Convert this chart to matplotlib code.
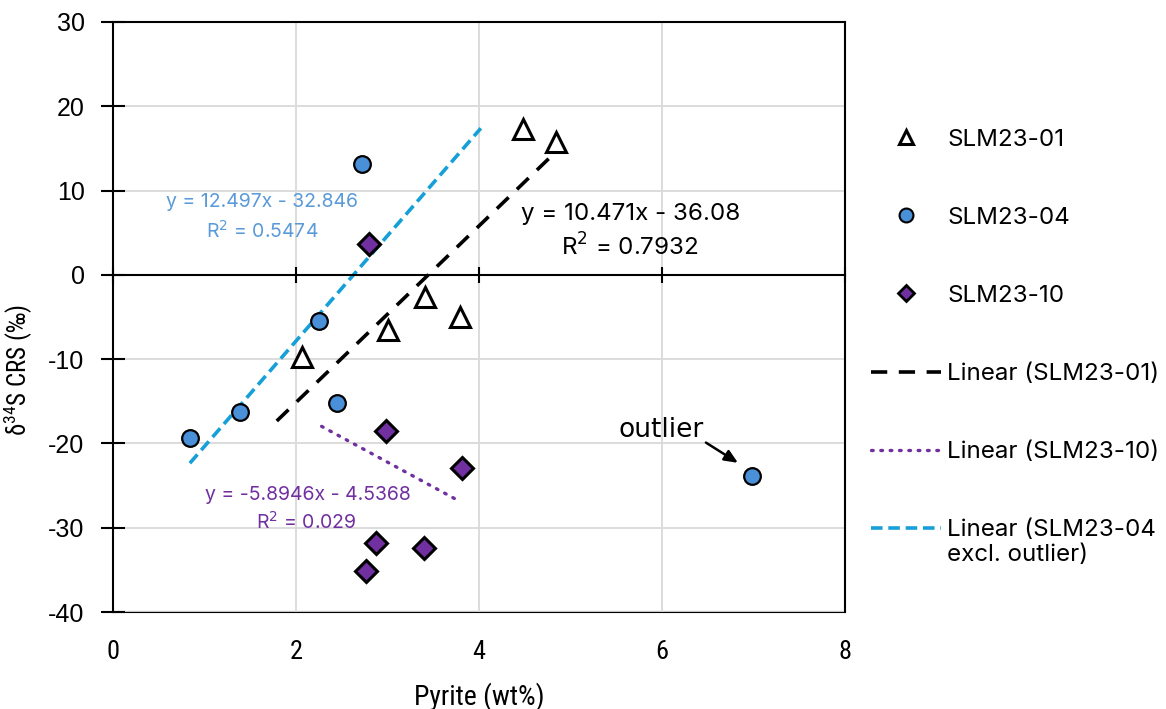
import matplotlib
matplotlib.use("Agg")
import matplotlib.pyplot as plt
from matplotlib import font_manager
from matplotlib.lines import Line2D

plt.rcParams["axes.unicode_minus"] = False

# Pyrite content (wt%) and d34S of CRS (permil) per core
slm01_x = [4.48, 4.84, 3.41, 3.79, 3.01, 2.07]
slm01_y = [17.3, 15.8, -2.6, -5.0, -6.6, -9.8]

slm04_x = [0.84, 1.39, 2.25, 2.45, 2.72, 6.98]
slm04_y = [-19.4, -16.3, -5.5, -15.2, 13.1, -23.9]

slm10_x = [2.80, 2.98, 3.81, 2.87, 3.40, 2.77]
slm10_y = [3.7, -18.5, -22.9, -31.8, -32.4, -35.1]

# Linear trend fits: (slope, intercept, x range drawn)
fit01 = (10.471, -36.08, (1.79, 4.85))
fit10 = (-5.8946, -4.5368, (2.28, 3.78))
fit04 = (12.497, -32.846, (0.84, 4.02))

xticks = [0, 2, 4, 6, 8]
yticks = [-40, -30, -20, -10, 0, 10, 20, 30]

BLUE_PT = "#4a90d9"
BLUE_LINE = "#179fd8"
BLUE_TXT = "#5a9ad8"
PURPLE = "#7030a0"
GRID = "#d9d9d9"


def pick(*names):
    have = {f.name for f in font_manager.fontManager.ttflist}
    for n in names:
        if n in have:
            return n
    return "DejaVu Sans"


SANS = pick("Liberation Sans", "Arial")
NARROW = pick("Liberation Sans Narrow", "Roboto Condensed", "Roboto")
TXT = pick("Inter", "Noto Sans", "Open Sans")

fig = plt.figure(figsize=(11.66, 7.09), dpi=100)
ax = fig.add_axes([0.0969, 0.1368, 0.6278, 0.8322])

ax.set_xlim(0, 8)
ax.set_ylim(-40, 30)
ax.set_xticks(xticks)
ax.set_yticks(yticks)
ax.grid(True, color=GRID, lw=1.3)
ax.set_axisbelow(True)

for s in ax.spines.values():
    s.set_color("black")
    s.set_linewidth(1.5)

# category axis crosses at y = 0 with cross ticks; labels sit on the lower border
ax.spines["bottom"].set_position(("data", 0))
ax.tick_params(axis="x", direction="inout", length=12, width=1.5, labelbottom=False)
ax.tick_params(axis="y", direction="inout", length=17, width=1.5, pad=12,
               labelsize=18, labelfontfamily=SANS)

sec = ax.secondary_xaxis(0)
sec.set_xticks(xticks)
sec.spines["bottom"].set_linewidth(1.5)
sec.tick_params(axis="x", length=0, pad=20, labelsize=19, labelfontfamily=NARROW)

sec.set_xlabel("Pyrite (wt%)", fontsize=20, fontfamily=NARROW, labelpad=13)
ax.set_ylabel(r"δ$^{\mathregular{34}}$S CRS (‰)", fontsize=18, fontfamily=NARROW)
ax.yaxis.set_label_coords(-0.106, 0.41)

# trend lines
for (m, b, (x0, x1)), kw in [
    (fit04, dict(color=BLUE_LINE, lw=2.6, ls=(0, (3.2, 1.6)))),
    (fit01, dict(color="black", lw=2.6, ls=(0, (4.5, 3.2)))),
    (fit10, dict(color=PURPLE, lw=2.4, ls=(0, (0.5, 2.3)), dash_capstyle="round")),
]:
    ax.plot([x0, x1], [m * x0 + b, m * x1 + b], **kw)

ax.plot(slm01_x, slm01_y, ls="none", marker="^", ms=14, mfc="white",
        mec="black", mew=2.2, zorder=5)
ax.plot(slm04_x, slm04_y, ls="none", marker="o", ms=12, mfc=BLUE_PT,
        mec="black", mew=1.6, zorder=5)
ax.plot(slm10_x, slm10_y, ls="none", marker="D", ms=11, mfc=PURPLE,
        mec="black", mew=2.2, zorder=5)

# trend equations
eq = dict(fontfamily=TXT, ha="center", va="center")
ax.text(1.63, 8.6, "y = 12.497x - 32.846", color=BLUE_TXT, fontsize=14, **eq)
ax.text(1.63, 5.2, r"R$^2$ = 0.5474", color=BLUE_TXT, fontsize=14, **eq)
ax.text(5.66, 7.2, "y = 10.471x - 36.08", color="black", fontsize=17.4, **eq)
ax.text(5.65, 3.3, r"R$^2$ = 0.7932", color="black", fontsize=17.4, **eq)
ax.text(2.13, -26.1, "y = -5.8946x - 4.5368", color=PURPLE, fontsize=14, **eq)
ax.text(2.11, -29.3, r"R$^2$ = 0.029", color=PURPLE, fontsize=14, **eq)

ax.text(5.99, -18.4, "outlier", fontsize=19, fontfamily="DejaVu Sans",
        ha="center", va="center")
ax.annotate("", xy=(6.83, -22.3), xytext=(6.48, -19.9),
            arrowprops=dict(arrowstyle="-|>,head_length=0.8,head_width=0.35",
                            color="black", lw=1.8, shrinkA=0, shrinkB=0))

handles = [
    Line2D([], [], ls="none", marker="^", ms=10, mfc="white", mec="black", mew=2.2),
    Line2D([], [], ls="none", marker="o", ms=10, mfc=BLUE_PT, mec="black", mew=1.5),
    Line2D([], [], ls="none", marker="D", ms=8, mfc=PURPLE, mec="black", mew=2.0),
    Line2D([], [], color="black", lw=2.6, ls=(0, (4.5, 3.2))),
    Line2D([], [], color=PURPLE, lw=2.4, ls=(0, (0.5, 2.3)), dash_capstyle="round"),
    Line2D([], [], color=BLUE_LINE, lw=2.6, ls=(0, (3.2, 1.6))),
]
labels = ["SLM23-01", "SLM23-04", "SLM23-10", "Linear (SLM23-01)",
          "Linear (SLM23-10)", "Linear (SLM23-04"]
leg = fig.legend(handles, labels, loc="upper left", bbox_to_anchor=(0.739, 0.832),
                 frameon=False, prop={"family": TXT, "size": 17.4}, handlelength=2.9,
                 handletextpad=0.25, labelspacing=2.32, borderaxespad=0)

# second line of the last legend label, hung under its first line
fig.canvas.draw()
last = leg.get_texts()[-1].get_window_extent()
fig.text(last.x0 / fig.bbox.width, (last.y0 - 3) / fig.bbox.height,
         "excl. outlier)", fontfamily=TXT, fontsize=17.4, va="top", ha="left")

fig.savefig("out.png", dpi=100)
